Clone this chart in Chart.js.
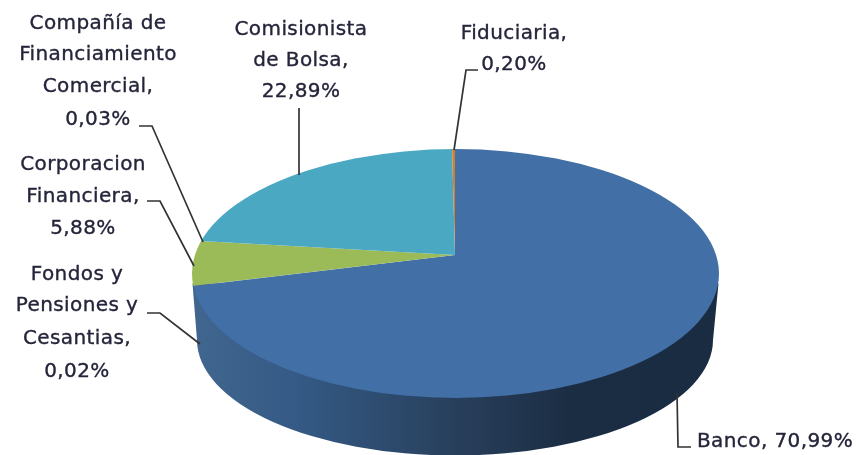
<!DOCTYPE html>
<html>
<head>
<meta charset="utf-8">
<style>html,body{margin:0;padding:0;background:#fff}canvas{display:block}</style>
<script src="https://cdn.jsdelivr.net/npm/chart.js@4"></script>
</head>
<body>
<canvas id="c" width="856" height="455"></canvas>
<script>
const categories = ['Banco', 'Fondos y Pensiones y Cesantias', 'Corporacion Financiera', 'Compañía de Financiamiento Comercial', 'Comisionista de Bolsa', 'Fiduciaria'];
const values = [70.99, 0.02, 5.88, 0.03, 22.89, 0.20];
const colors = ['#426fa5', '#3f6a9e', '#9bbb59', '#7d5fa0', '#4aa8c3', '#d08030'];
const labelLines = [
  ['Banco, 70,99%'],
  ['Fondos y', 'Pensiones y', 'Cesantias,', '0,02%'],
  ['Corporacion', 'Financiera,', '5,88%'],
  ['Compañía de', 'Financiamiento', 'Comercial,', '0,03%'],
  ['Comisionista', 'de Bolsa,', '22,89%'],
  ['Fiduciaria,', '0,20%']
];

// layout of the labels and leaders (pixels)
const labelLayout = [
  {x: 697, ys: [441.5], align: 'left', leader: [[691,447],[678,447],[677,393]]},
  {x: 77, ys: [274.5,305.5,338.5,371.5], align: 'center', leader: [[147,313],[160,313],[200,344]]},
  {x: 83, ys: [164.5,196.5,228.5], align: 'center', leader: [[147,201],[160,201],[194,266]]},
  {x: 98, ys: [23.5,54.5,86.5,119.5], align: 'center', leader: [[139,126],[152,126],[203,242]]},
  {x: 301, ys: [29.5,60.5,91.5], align: 'center', leader: [[299,108],[299,175]]},
  {x: 514, ys: [33.5,64.5], align: 'center', leader: [[478,70],[466,70],[454,150]]}
];
const face = {cx: 455.5, cy: 273.5, rx: 263.5, ry: 124.5};
const base = {cx: 455, cy: 340, rx: 258, ry: 115.5};
const spread = {x: 326, y: 150};

const pie3d = {
  id: 'pie3d',
  beforeDatasetsDraw(chart) {
    const ctx = chart.ctx;
    const g = ctx.createLinearGradient(192, 0, 719, 0);
    g.addColorStop(0, '#41668f');
    g.addColorStop(0.2, '#345a85');
    g.addColorStop(0.5, '#283f5c');
    g.addColorStop(0.72, '#1b2d43');
    g.addColorStop(1, '#1a2c42');
    ctx.save();
    ctx.fillStyle = g;
    ctx.beginPath();
    ctx.moveTo(face.cx - face.rx + 0.5, face.cy + 10);
    ctx.lineTo(base.cx - base.rx, base.cy);
    ctx.ellipse(base.cx, base.cy, base.rx, base.ry, 0, Math.PI, 0, true);
    ctx.lineTo(face.cx + face.rx - 0.5, face.cy + 10);
    ctx.closePath();
    ctx.fill();
    ctx.restore();
  },
  beforeDatasetDraw(chart) {
    const ctx = chart.ctx;
    const arc = chart.getDatasetMeta(0).data[0];
    ctx.save();
    ctx.beginPath();
    ctx.ellipse(face.cx, face.cy, face.rx, face.ry, 0, 0, Math.PI * 2);
    ctx.clip();
    ctx.translate(arc.x, arc.y);
    ctx.scale(spread.x / arc.outerRadius, spread.y / arc.outerRadius);
    ctx.translate(-arc.x, -arc.y);
  },
  afterDatasetDraw(chart) {
    chart.ctx.restore();
  },
  afterDraw(chart) {
    const ctx = chart.ctx;
    ctx.save();
    ctx.strokeStyle = '#333333';
    ctx.lineWidth = 1.7;
    labelLayout.forEach(l => {
      ctx.beginPath();
      l.leader.forEach((p, i) => i ? ctx.lineTo(p[0], p[1]) : ctx.moveTo(p[0], p[1]));
      ctx.stroke();
    });
    ctx.fillStyle = '#24243a';
    ctx.strokeStyle = '#24243a';
    ctx.lineWidth = 0.35;
    ctx.font = '20px "DejaVu Sans"';
    ctx.letterSpacing = '0.4px';
    ctx.textBaseline = 'middle';
    labelLayout.forEach((l, i) => {
      ctx.textAlign = l.align;
      labelLines[i].forEach((t, j) => {
        ctx.fillText(t, l.x, l.ys[j]);
        ctx.strokeText(t, l.x, l.ys[j]);
      });
    });
    ctx.restore();
  }
};

new Chart(document.getElementById('c'), {
  type: 'pie',
  data: {
    labels: categories,
    datasets: [{data: values, backgroundColor: colors, borderWidth: 0, clip: false}]
  },
  options: {
    responsive: false,
    animation: false,
    rotation: 0,
    layout: {padding: {left: 54, top: 55}},
    plugins: {legend: {display: false}, tooltip: {enabled: false}, title: {display: false}}
  },
  plugins: [pie3d]
});
</script>
</body>
</html>
